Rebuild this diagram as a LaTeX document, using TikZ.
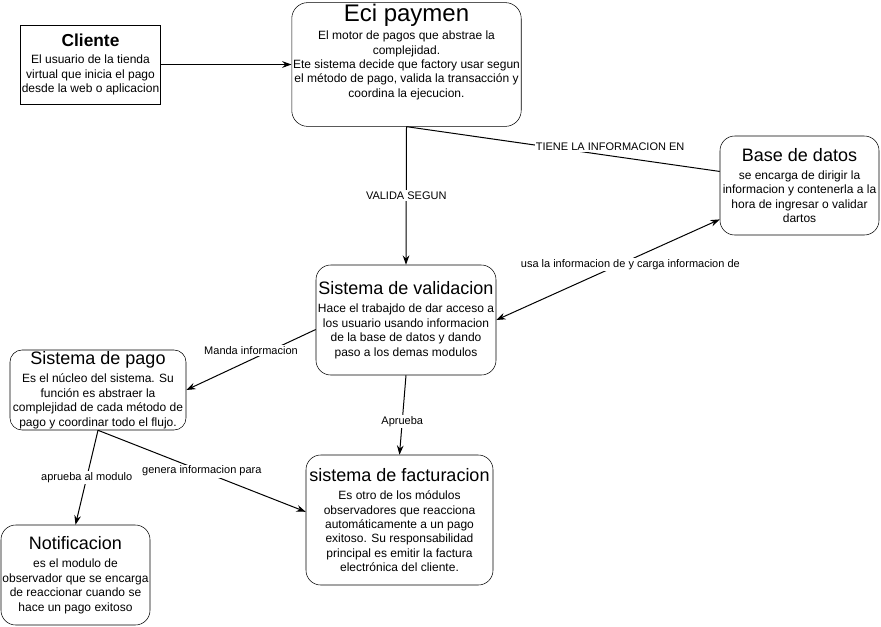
\documentclass[tikz,border=0pt]{standalone}
\usepackage{fontspec}
\setmainfont{Liberation Sans}
\usepackage{tikz}
\usetikzlibrary{
    arrows.meta,
    shapes
}

\tikzset{
    modulo/.style={draw, rounded corners=11pt, align=center, inner sep=1pt, font=\fontsize{9}{10.8}\selectfont},
    actor/.style={draw, align=center, inner sep=1pt, font=\fontsize{9}{10.8}\selectfont},
    flecha/.style={-{Stealth[length=7pt,width=5pt]}, line width=0.75pt},
    doble/.style={{Stealth[length=7pt,width=5pt]}-{Stealth[length=7pt,width=5pt]}, line width=0.75pt},
    relacion/.style={line width=0.75pt},
    etiqueta/.style={fill=white, inner sep=1pt, font=\fontsize{8.25}{9.9}\selectfont}
}
\newcommand{\titulo}[1]{{\fontsize{13.5}{16.2}\selectfont #1}}

\begin{document}
\begin{tikzpicture}[x=0.75pt, y=-0.75pt]
                    \useasboundingbox (0,0) rectangle (881,626);

                    \node[actor, minimum width=104.25pt, minimum height=59.25pt] (cliente) at (90.5,64.5)
                        {{\fontsize{13}{15.6}\selectfont\bfseries Cliente}\\[2pt]
                         El usuario de la tienda\\ virtual que inicia el pago\\ desde la web o aplicacion};

                    \node[modulo, rounded corners=12pt, minimum width=171.75pt, minimum height=89.25pt] (eci) at (406.5,64.5)
                        {{\fontsize{18}{21.6}\selectfont Eci paymen}\\[3pt]
                         El motor de pagos que abstrae la\\ complejidad.\\
                         Ete sistema decide que factory usar segun\\
                         el método de pago, valida la transacción y\\
                         coordina la ejecucion.\\[10pt]\mbox{}};

                    \node[modulo, minimum width=119.25pt, minimum height=74.25pt] (base) at (799.5,185.5)
                        {\titulo{Base de datos}\\[3pt]
                         se encarga de dirigir la\\ informacion y contenerla a la\\
                         hora de ingresar o validar\\ dartos};

                    \node[modulo, minimum width=135pt, minimum height=82.5pt] (validacion) at (406,320)
                        {\titulo{Sistema de validacion}\\[3pt]
                         Hace el trabajdo de dar acceso a\\ los usuario usando informacion\\
                         de la base de datos y dando\\ paso a los demas modulos};

                    \node[modulo, rounded corners=9pt, minimum width=132pt, minimum height=60pt] (pago) at (98,390)
                        {\titulo{Sistema de pago}\\[3pt]
                         Es el núcleo del sistema. Su\\ función es abstraer la\\
                         complejidad de cada método de\\ pago y coordinar todo el flujo.};

                    \node[modulo, minimum width=140.25pt, minimum height=97.5pt] (facturacion) at (399.5,520)
                        {\titulo{sistema de facturacion}\\[3pt]
                         Es otro de los módulos\\ observadores que reacciona\\
                         automáticamente a un pago\\ exitoso. Su responsabilidad\\
                         principal es emitir la factura\\ electrónica del cliente.};

                    \node[modulo, minimum width=111.75pt, minimum height=75pt] (notificacion) at (75.5,575)
                        {\titulo{Notificacion}\\[3pt]
                         es el modulo de\\ observador que se encarga\\
                         de reaccionar cuando se\\ hace un pago exitoso};

                    \draw[flecha] (cliente) -- (eci);
                    \draw[flecha] (eci.south) -- node[etiqueta] {VALIDA SEGUN} (validacion.north);
                    \draw[relacion] (eci.south) -- node[etiqueta, pos=0.65, yshift=7pt] {TIENE LA INFORMACION EN} (base.170);
                    \draw[doble] (validacion.east) -- node[etiqueta, pos=0.6, yshift=-4pt] {usa la informacion de y carga informacion de} (base.203);
                    \draw[flecha] (validacion.186) -- node[etiqueta, pos=0.5, yshift=7pt] {Manda informacion} (pago.east);
                    \draw[flecha] (validacion.south) -- node[etiqueta, pos=0.58] {Aprueba} (facturacion.north);
                    \draw[flecha] (pago.south) -- node[etiqueta] {aprueba al modulo} (notificacion.north);
                    \draw[flecha] (pago.south) -- node[etiqueta] {genera informacion para} (facturacion.175);
                \end{tikzpicture}
\end{document}
